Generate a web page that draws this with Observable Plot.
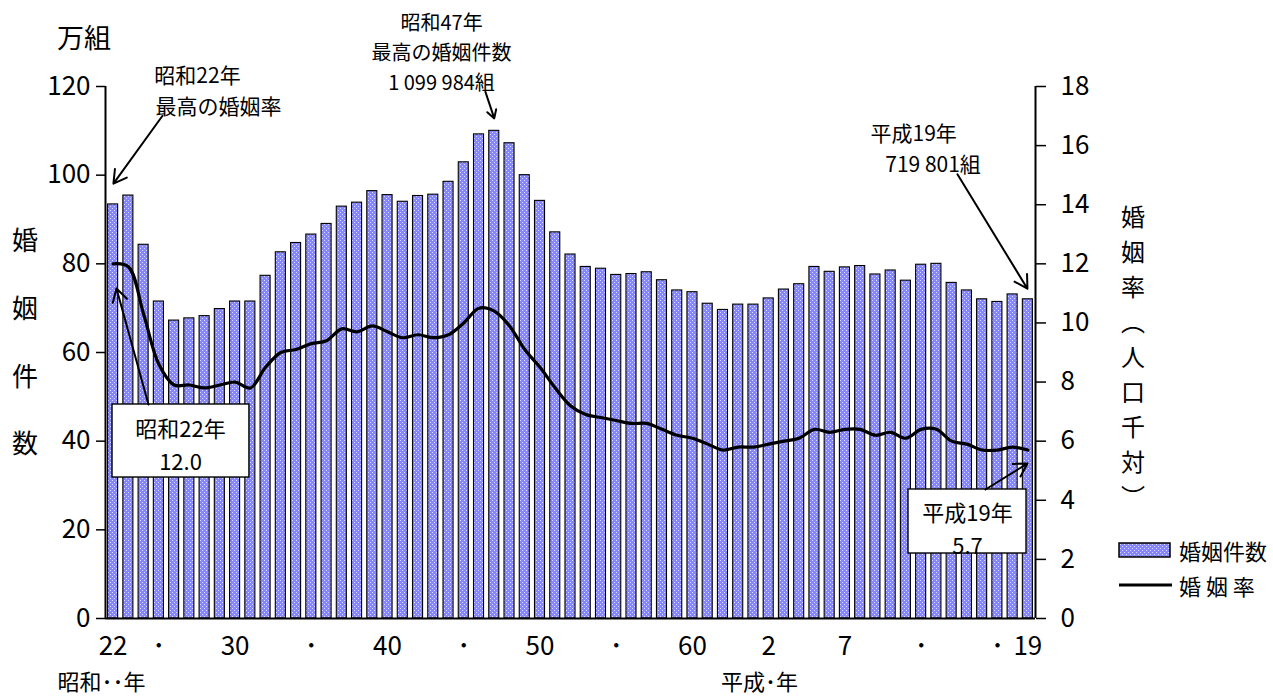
<!DOCTYPE html>
<html><head><meta charset="utf-8">
<script src="https://cdn.jsdelivr.net/npm/d3@7"></script>
<script src="https://cdn.jsdelivr.net/npm/@observablehq/plot@0.6"></script>
<style>
html,body{margin:0;padding:0;background:#fff;}
#chart{position:relative;width:1273px;height:697px;overflow:hidden;}
</style></head><body><div id="chart"></div>
<script>
// ---- data ----
const years = d3.range(1947, 2008); // 昭和22年 … 平成19年
const counts = [93.4, 95.4, 84.3, 71.5, 67.2, 67.7, 68.2, 69.8, 71.5, 71.5,
  77.3, 82.6, 84.7, 86.6, 89.0, 92.9, 93.8, 96.4, 95.5, 94.0,
  95.3, 95.6, 98.5, 102.9, 109.2, 110.0, 107.2, 100.0, 94.2, 87.1,
  82.1, 79.3, 78.9, 77.5, 77.7, 78.1, 76.3, 74.0, 73.6, 71.0,
  69.6, 70.8, 70.8, 72.2, 74.2, 75.4, 79.3, 78.2, 79.2, 79.5,
  77.6, 78.5, 76.2, 79.8, 80.0, 75.7, 74.0, 72.0, 71.4, 73.1, 72.0]; // 万組
const rates = [12.0, 11.9, 10.3, 8.6, 7.9, 7.9, 7.8, 7.9, 8.0, 7.8,
  8.5, 9.0, 9.1, 9.3, 9.4, 9.8, 9.7, 9.9, 9.7, 9.5,
  9.6, 9.5, 9.6, 10.0, 10.5, 10.4, 9.9, 9.1, 8.5, 7.8,
  7.2, 6.9, 6.8, 6.7, 6.6, 6.6, 6.4, 6.2, 6.1, 5.9,
  5.7, 5.8, 5.8, 5.9, 6.0, 6.1, 6.4, 6.3, 6.4, 6.4,
  6.2, 6.3, 6.1, 6.4, 6.4, 6.0, 5.9, 5.7, 5.7, 5.8, 5.7]; // 人口千対
const tickYears = [1947, 1950, 1955, 1960, 1965, 1970, 1975, 1980, 1985, 1990, 1995, 2000, 2005, 2007];
const tickLabels = ["22", "･", "30", "･", "40", "･", "50", "･", "60", "2", "7", "･", "･", "19"];
const countTicks = [0, 20, 40, 60, 80, 100, 120];
const rateTicks = [0, 2, 4, 6, 8, 10, 12, 14, 16, 18];
const eraLabels = [{x: 1946.24, text: "昭和･･年"}, {x: 1989.4, text: "平成･年"}];

// annotation texts (data coordinates: year, 万組)
const noteCentered = [
  {x: 1953.91, y: 119.6, size: 21, text: "昭和22年　　\n最高の婚姻率"},
  {x: 1968.54, y: 128.1, size: 20, text: "昭和47年\n最高の婚姻件数\n1 099 984組"},
  {x: 1951.42, y: 39.59, size: 22, text: "昭和22年\n12.0"},
  {x: 2003.04, y: 20.75, size: 22, text: "平成19年\n5.7"}
];
const noteLeft = [
  {x: 1996.68, y: 106.47, size: 21, text: "平成19年\n\u2002\u2009719 801組"}
];
const noteArrows = [
  {x1: 1950.24, y1: 113.4, x2: 1947.02, y2: 98.1},
  {x1: 1971.42, y1: 118.8, x2: 1972.0, y2: 112.8},
  {x1: 2002.38, y1: 100.2, x2: 2006.97, y2: 74.4},
  {x1: 1949.32, y1: 48.27, x2: 1947.22, y2: 74.44},
  {x1: 2004.22, y1: 29.1, x2: 2006.97, y2: 34.96}
];
const noteBoxes = [
  {x1: 1946.96, x2: 1955.94, y1: 31.8, y2: 48.27},
  {x1: 1999.17, x2: 2006.91, y1: 14.66, y2: 29.1}
];

const K = 120 / 18; // rate -> count axis
const data = years.map((year, i) => ({year, count: counts[i], rate: rates[i]}));
const FONT = "'Noto Sans CJK JP', 'Noto Sans', sans-serif";

const textMarks = (arr, anchor) => arr.map(n => Plot.text([n], {x: "x", y: "y", text: "text",
  fontSize: n.size, fill: "#000", lineHeight: 1.5, textAnchor: anchor}));

const plot = Plot.plot({
  width: 1273, height: 697,
  marginLeft: 105, marginRight: 238, marginTop: 86, marginBottom: 79,
  style: {fontFamily: FONT, fontSize: "22px", color: "#000", background: "#fff", overflow: "visible"},
  x: {type: "linear", domain: [1946.5, 2007.5]},
  y: {domain: [0, 120]},
  marks: [
    Plot.rectY(data, {x1: d => d.year - 0.5, x2: d => d.year + 0.5, y: "count",
      insetLeft: 2.6, insetRight: 2.6, fill: "url(#barPat)", stroke: "#000", strokeWidth: 1.1}),
    Plot.line(data, {x: "year", y: d => d.rate * K, stroke: "#000", strokeWidth: 3.2, curve: "catmull-rom"}),
    Plot.ruleY([0], {stroke: "#000", strokeWidth: 2}),
    Plot.ruleX([1946.5, 2007.5], {stroke: "#000", strokeWidth: 2}),
    Plot.axisY({anchor: "left", ticks: countTicks, tickSize: 9, tickPadding: 6, fontSize: 26, label: null, strokeWidth: 1.5}),
    Plot.axisY({anchor: "right", ticks: rateTicks.map(r => r * K), tickFormat: d => String(Math.round(d / K)),
      tickSize: 10, tickPadding: 15, fontSize: 26, label: null, strokeWidth: 1.5}),
    Plot.axisX({ticks: tickYears, tickFormat: d => tickLabels[tickYears.indexOf(d)], tickSize: 0, tickPadding: 18, fontSize: 26, label: null}),
    Plot.text(eraLabels, {x: "x", y: () => 0, text: "text", dy: 64, fontSize: 22, fill: "#000"}),
    Plot.rect(noteBoxes, {x1: "x1", x2: "x2", y1: "y1", y2: "y2", fill: "#fff", stroke: "#000", strokeWidth: 1.4}),
    Plot.arrow(noteArrows, {x1: "x1", y1: "y1", x2: "x2", y2: "y2", stroke: "#000", strokeWidth: 2, headLength: 11}),
    ...textMarks(noteCentered, "middle"),
    ...textMarks(noteLeft, "start")
  ]
});

const svg = d3.select(plot);
const defs = svg.insert("defs", ":first-child");
const pat = defs.append("pattern").attr("id", "barPat").attr("width", 4).attr("height", 4)
  .attr("patternUnits", "userSpaceOnUse");
pat.append("rect").attr("width", 4).attr("height", 4).attr("fill", "#8686ff");
[[0, 0, "#dadaff"], [2, 2, "#dadaff"]].forEach(([x, y, c]) =>
  pat.append("rect").attr("x", x).attr("y", y).attr("width", 1).attr("height", 1).attr("fill", c));

const g = svg.append("g").attr("font-family", FONT).attr("fill", "#000").attr("text-anchor", "start");
// unit & axis titles
g.append("text").attr("x", 84).attr("y", 36).attr("text-anchor", "middle").attr("dominant-baseline", "central")
  .attr("font-size", 27).text("万組");
const leftTitle = ["婚", "姻", "件", "数"], leftY = [238, 306, 374, 441];
leftTitle.forEach((c, i) => g.append("text").attr("x", 25).attr("y", leftY[i]).attr("text-anchor", "middle")
  .attr("dominant-baseline", "central").attr("font-size", 26).text(c));
const rightTitle = ["婚", "姻", "率", "︵", "人", "口", "千", "対", "︶"];
rightTitle.forEach((c, i) => g.append("text").attr("x", 1133).attr("y", 215 + 35 * i).attr("text-anchor", "middle")
  .attr("dominant-baseline", "central").attr("font-size", 24).text(c));
// legend
g.append("rect").attr("x", 1119).attr("y", 543).attr("width", 51).attr("height", 14)
  .attr("fill", "url(#barPat)").attr("stroke", "#000").attr("stroke-width", 1.5);
g.append("text").attr("x", 1179).attr("y", 550).attr("text-anchor", "start").attr("dominant-baseline", "central")
  .attr("font-size", 22).text("婚姻件数");
g.append("line").attr("x1", 1119).attr("x2", 1172).attr("y1", 585).attr("y2", 585).attr("stroke", "#000").attr("stroke-width", 3);
g.append("text").attr("x", 1179).attr("y", 585).attr("text-anchor", "start").attr("dominant-baseline", "central")
  .attr("font-size", 22).attr("xml:space", "preserve").text("婚 姻 率");

document.getElementById("chart").appendChild(plot);
</script>
</body></html>
